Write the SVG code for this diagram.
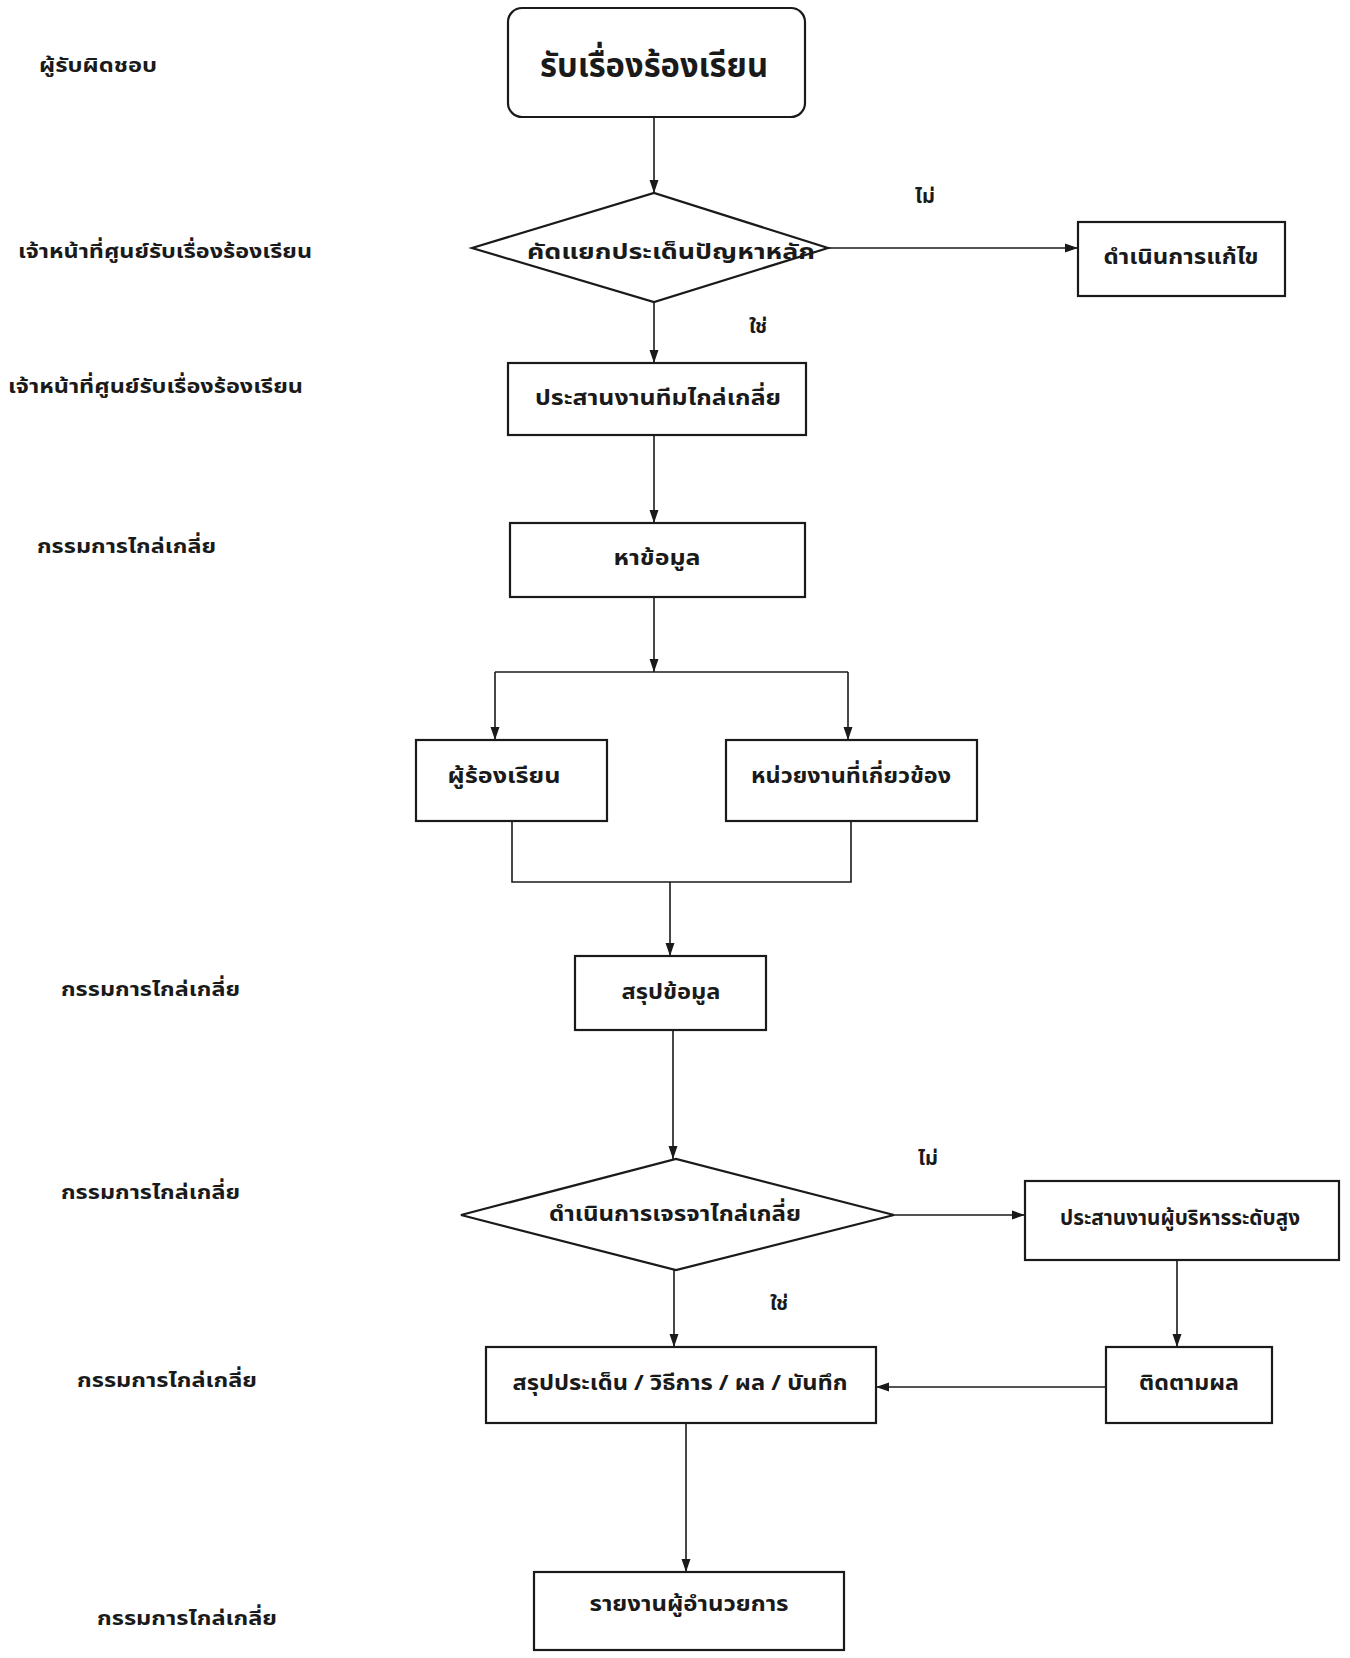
<svg xmlns="http://www.w3.org/2000/svg" width="1350" height="1658" viewBox="0 0 1350 1658">
<defs>
<marker id="ah" viewBox="0 0 13 10" refX="13" refY="5" markerWidth="13" markerHeight="10" markerUnits="userSpaceOnUse" orient="auto">
<path d="M0,0.5 L13,5 L0,9.5 z" fill="#1a1a1a"/>
</marker>
<style>
.n{fill:#fff;stroke:#1a1a1a;stroke-width:2.2}
.c{fill:none;stroke:#1a1a1a;stroke-width:1.6}
.a{marker-end:url(#ah)}
text{font-family:"Noto Sans Thai","Noto Sans","DejaVu Sans",sans-serif;fill:#1a1a1a}
.t{font-size:21px;font-weight:bold;text-anchor:middle;dominant-baseline:central}
.l{font-size:20px;font-weight:bold;dominant-baseline:central}
.y{font-size:20px;font-weight:bold;text-anchor:middle;dominant-baseline:central}
</style>
</defs>
<rect width="1350" height="1658" fill="#fff"/>
<g id="roles">
<text class="l" x="39" y="66" textLength="118" lengthAdjust="spacingAndGlyphs">ผู้รับผิดชอบ</text>
<text class="l" x="18" y="252" textLength="294" lengthAdjust="spacingAndGlyphs">เจ้าหน้าที่ศูนย์รับเรื่องร้องเรียน</text>
<text class="l" x="8" y="387" textLength="295" lengthAdjust="spacingAndGlyphs">เจ้าหน้าที่ศูนย์รับเรื่องร้องเรียน</text>
<text class="l" x="37" y="547" textLength="179" lengthAdjust="spacingAndGlyphs">กรรมการไกล่เกลี่ย</text>
<text class="l" x="61" y="990" textLength="179" lengthAdjust="spacingAndGlyphs">กรรมการไกล่เกลี่ย</text>
<text class="l" x="61" y="1193" textLength="179" lengthAdjust="spacingAndGlyphs">กรรมการไกล่เกลี่ย</text>
<text class="l" x="77" y="1381" textLength="180" lengthAdjust="spacingAndGlyphs">กรรมการไกล่เกลี่ย</text>
<text class="l" x="97" y="1619" textLength="180" lengthAdjust="spacingAndGlyphs">กรรมการไกล่เกลี่ย</text>
</g>
<g id="connectors">
<path class="c a" d="M654,117 V193"/>
<path class="c a" d="M828,248 H1078"/>
<path class="c a" d="M654,302 V363"/>
<path class="c a" d="M654,435 V523"/>
<path class="c a" d="M654,597 V672"/>
<path class="c" d="M495,672 H848"/>
<path class="c a" d="M495,672 V740"/>
<path class="c a" d="M848,672 V740"/>
<path class="c" d="M512,821 V882 H851 V821"/>
<path class="c a" d="M670,882 V956"/>
<path class="c a" d="M673,1030 V1159"/>
<path class="c a" d="M894,1215 H1025"/>
<path class="c a" d="M674,1270 V1347"/>
<path class="c a" d="M1177,1260 V1347"/>
<path class="c a" d="M1106,1387 H876"/>
<path class="c a" d="M686,1423 V1572"/>
</g>
<g id="edge-labels">
<text class="y" x="925" y="197">ไม่</text>
<text class="y" x="758" y="327">ใช่</text>
<text class="y" x="928" y="1159">ไม่</text>
<text class="y" x="779" y="1304">ใช่</text>
</g>
<g id="n-start">
<rect class="n" x="508" y="8" width="297" height="109" rx="14"/>
<text class="t" x="654" y="66" style="font-size:34px" textLength="228" lengthAdjust="spacingAndGlyphs">รับเรื่องร้องเรียน</text>
</g>
<g id="n-d1">
<polygon class="n" points="472,248 654,193 828,248 654,302"/>
<text class="t" x="671" y="252" textLength="288" lengthAdjust="spacingAndGlyphs">คัดแยกประเด็นปัญหาหลัก</text>
</g>
<g id="n-fix">
<rect class="n" x="1078" y="222" width="207" height="74"/>
<text class="t" x="1181" y="257" textLength="155" lengthAdjust="spacingAndGlyphs">ดำเนินการแก้ไข</text>
</g>
<g id="n-coord">
<rect class="n" x="508" y="363" width="298" height="72"/>
<text class="t" x="658" y="398" textLength="246" lengthAdjust="spacingAndGlyphs">ประสานงานทีมไกล่เกลี่ย</text>
</g>
<g id="n-info">
<rect class="n" x="510" y="523" width="295" height="74"/>
<text class="t" x="657" y="558" textLength="87" lengthAdjust="spacingAndGlyphs">หาข้อมูล</text>
</g>
<g id="n-complainant">
<rect class="n" x="416" y="740" width="191" height="81"/>
<text class="t" x="504" y="776" textLength="113" lengthAdjust="spacingAndGlyphs">ผู้ร้องเรียน</text>
</g>
<g id="n-agency">
<rect class="n" x="726" y="740" width="251" height="81"/>
<text class="t" x="851" y="776" textLength="200" lengthAdjust="spacingAndGlyphs">หน่วยงานที่เกี่ยวข้อง</text>
</g>
<g id="n-summary">
<rect class="n" x="575" y="956" width="191" height="74"/>
<text class="t" x="671" y="992" textLength="99" lengthAdjust="spacingAndGlyphs">สรุปข้อมูล</text>
</g>
<g id="n-d2">
<polygon class="n" points="461,1215 676,1159 894,1215 676,1270"/>
<text class="t" x="675" y="1214" textLength="252" lengthAdjust="spacingAndGlyphs">ดำเนินการเจรจาไกล่เกลี่ย</text>
</g>
<g id="n-exec">
<rect class="n" x="1025" y="1181" width="314" height="79"/>
<text class="t" x="1180" y="1218" textLength="240" lengthAdjust="spacingAndGlyphs">ประสานงานผู้บริหารระดับสูง</text>
</g>
<g id="n-record">
<rect class="n" x="486" y="1347" width="390" height="76"/>
<text class="t" x="680" y="1383" textLength="335" lengthAdjust="spacingAndGlyphs">สรุปประเด็น / วิธีการ / ผล / บันทึก</text>
</g>
<g id="n-follow">
<rect class="n" x="1106" y="1347" width="166" height="76"/>
<text class="t" x="1189" y="1383" textLength="100" lengthAdjust="spacingAndGlyphs">ติดตามผล</text>
</g>
<g id="n-report">
<rect class="n" x="534" y="1572" width="310" height="78"/>
<text class="t" x="689" y="1604" textLength="199" lengthAdjust="spacingAndGlyphs">รายงานผู้อำนวยการ</text>
</g>
</svg>
